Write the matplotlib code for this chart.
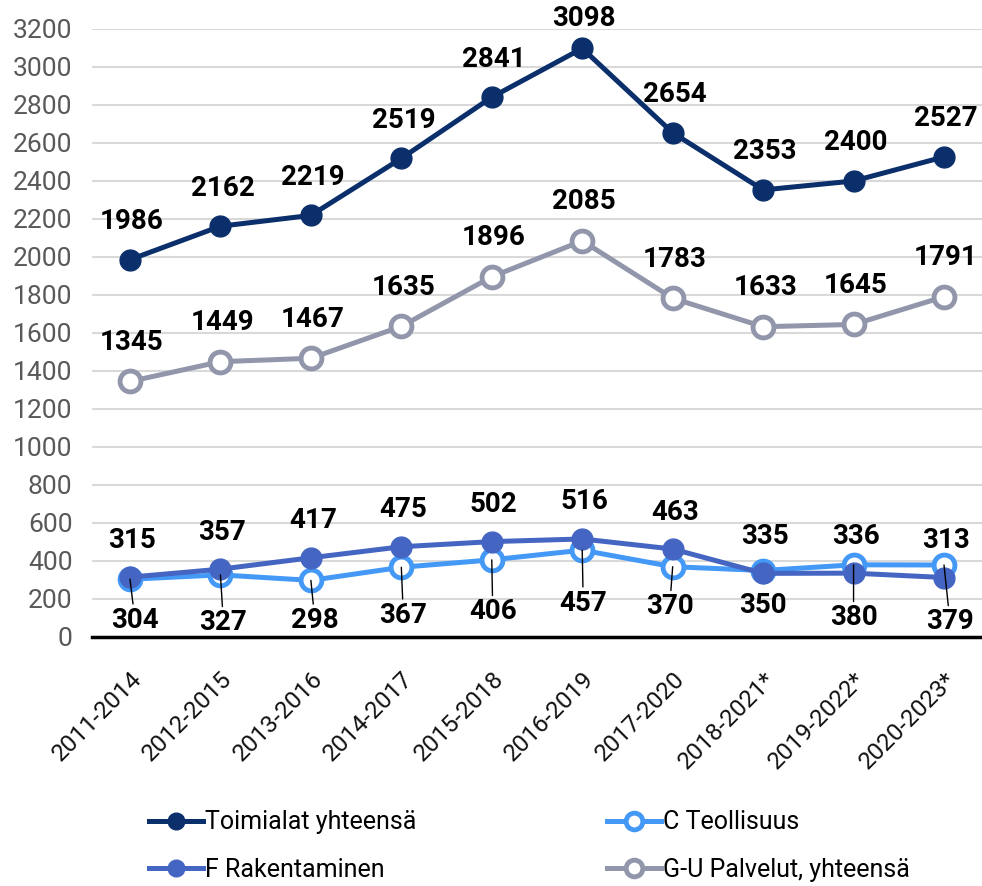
import matplotlib.pyplot as plt
from matplotlib import font_manager

# fontti: kapea jos löytyy
installed = {f.name for f in font_manager.fontManager.ttflist}
base_font = 'Liberation Sans Narrow' if 'Liberation Sans Narrow' in installed else 'Roboto'
plt.rcParams['font.family'] = [base_font, 'DejaVu Sans']

# data
periods = ['2011-2014', '2012-2015', '2013-2016', '2014-2017', '2015-2018',
           '2016-2019', '2017-2020', '2018-2021*', '2019-2022*', '2020-2023*']
total = [1986, 2162, 2219, 2519, 2841, 3098, 2654, 2353, 2400, 2527]
industry = [304, 327, 298, 367, 406, 457, 370, 350, 380, 379]
construction = [315, 357, 417, 475, 502, 516, 463, 335, 336, 313]
services = [1345, 1449, 1467, 1635, 1896, 2085, 1783, 1633, 1645, 1791]

names = ['Toimialat yhteensä', 'C Teollisuus', 'F Rakentaminen', 'G-U Palvelut, yhteensä']
colors = ['#0b2f6b', '#4499f7', '#4565c2', '#9196ab']

# label offsets (px) for C Teollisuus labels below the line
c_dx = [5, 3, 4, 2, 1, 1, -3, 0, 0, 6]
c_dy = [-41, -48, -40, -48, -52, -53, -40, -35, -53, -57]

fig = plt.figure(figsize=(9.82, 8.86), dpi=100)
ax = fig.add_axes([92 / 982, 1 - 637 / 886, 890 / 982, 608 / 886])

x = list(range(len(periods)))
series = [total, industry, construction, services]
hollow = [False, True, False, True]
lines = []
for vals, name, col, h in zip(series, names, colors, hollow):
    ln, = ax.plot(x, vals, color=col, lw=3.6, marker='o', ms=15,
                  mfc='white' if h else col, mec=col, mew=3.5 if h else 1,
                  label=name, clip_on=False, zorder=3)
    lines.append(ln)

px = 72 / 100  # px -> points

def label(i, v, dx, dy, arrow=False):
    kw = {}
    if arrow:
        kw['arrowprops'] = dict(arrowstyle='-', color='black', lw=1,
                                shrinkA=0, shrinkB=0)
    ax.annotate(str(v), (i, v), xytext=(dx * px, dy * px), textcoords='offset points',
                ha='center', va='center', fontsize=20, fontweight='bold',
                color='black', annotation_clip=False, zorder=6, **kw)

for i in x:
    label(i, total[i], 2, 30 if i == 5 else 38)
    label(i, services[i], 2, 39)
    label(i, construction[i], 2, 37)
    label(i, industry[i], c_dx[i], c_dy[i], arrow=(i != 7))

ax.set_xlim(-0.42, 9.42)
ax.set_ylim(0, 3200)
ax.set_yticks(range(0, 3201, 200))
ax.set_xticks(x)
ax.set_xticklabels(periods, rotation=45, ha='right', rotation_mode='anchor',
                   fontsize=17.5, color='#111111')
ax.tick_params(axis='y', labelsize=19, labelcolor='#595959', length=0, pad=14)
ax.tick_params(axis='x', length=0, pad=22)
ax.grid(axis='y', color='#d9d9d9', lw=1.5)
ax.set_axisbelow(True)
for s in ['top', 'right', 'left']:
    ax.spines[s].set_visible(False)
ax.spines['bottom'].set_linewidth(2.5)
ax.spines['bottom'].set_color('black')

# rivi kerrallaan: Toimialat, C / F, G-U
order = [0, 2, 1, 3]
leg = fig.legend([lines[k] for k in order], [names[k] for k in order], ncol=2,
                 loc='center left', bbox_to_anchor=(0.129, 0.045),
                 frameon=False, fontsize=18, markerscale=0.8, handlelength=2.15,
                 handletextpad=0.1, columnspacing=7.6, labelspacing=0.95)

fig.savefig('out.png', dpi=100)
